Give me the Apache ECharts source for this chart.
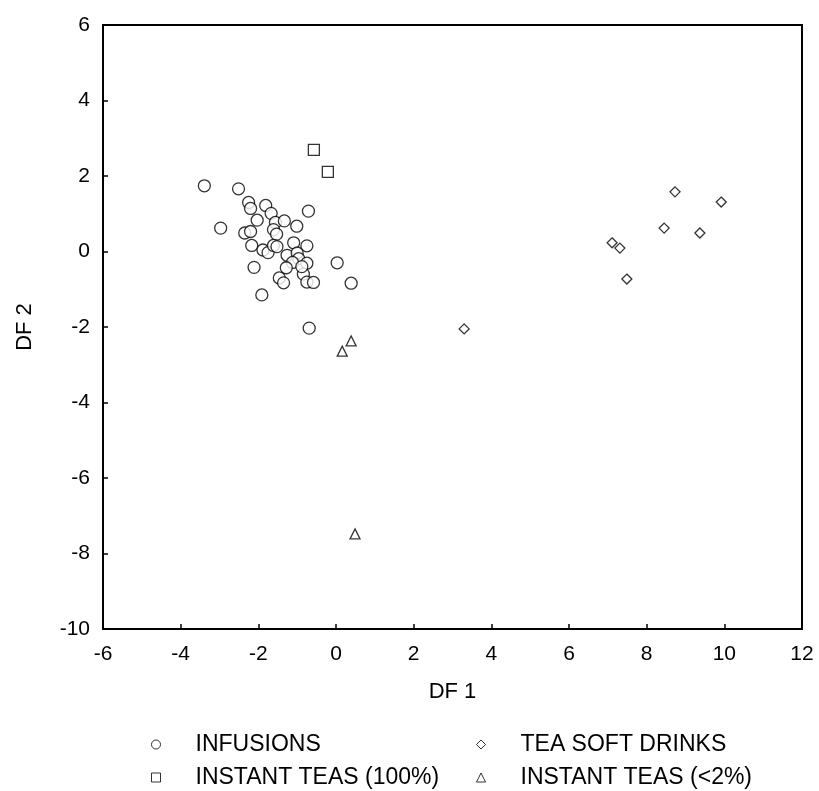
<!DOCTYPE html>
<html>
<head>
<meta charset="utf-8">
<script src="https://cdn.jsdelivr.net/npm/echarts@6/dist/echarts.min.js"></script>
<style>
  html, body { margin: 0; padding: 0; background: #fff; }
  #chart { width: 819px; height: 791px; }
</style>
</head>
<body>
<div id="chart"></div>
<script>
// DF1 / DF2 scores
const infusions = [
  [-3.39, 1.74], [-2.51, 1.66], [-2.25, 1.30], [-2.20, 1.14], [-1.81, 1.22],
  [-1.67, 1.01], [-0.71, 1.07], [-2.03, 0.83], [-1.56, 0.77], [-1.33, 0.81],
  [-1.01, 0.67], [-2.97, 0.62], [-2.35, 0.49], [-2.20, 0.53], [-1.61, 0.58],
  [-1.53, 0.46], [-2.17, 0.16], [-1.88, 0.04], [-1.75, -0.03], [-1.61, 0.16],
  [-1.52, 0.13], [-1.09, 0.23], [-0.75, 0.15], [-1.26, -0.10], [-1.00, -0.04],
  [-0.96, -0.19], [-1.12, -0.29], [-0.75, -0.31], [-2.11, -0.42], [-1.28, -0.43],
  [0.03, -0.30], [-1.46, -0.70], [-1.35, -0.83], [-0.84, -0.60], [-0.75, -0.81],
  [-0.58, -0.82], [0.39, -0.84], [-1.91, -1.15], [-0.69, -2.03], [-0.88, -0.40]
]
const instant100 = [[-0.57, 2.69], [-0.21, 2.11]]
const softDrinks = [
  [3.30, -2.05], [7.11, 0.23], [7.31, 0.09], [7.49, -0.73],
  [8.45, 0.62], [8.73, 1.58], [9.37, 0.49], [9.92, 1.31]
]
const instant2 = [[0.39, -2.37], [0.16, -2.64], [0.49, -7.48]]

const font = 'Liberation Sans, Arial, Helvetica, sans-serif'
const hollow = { color: '#fff', borderColor: '#000', borderWidth: 1.3 }

function legendAt(name, icon, left, top) {
  return {
    data: [{ name: name, icon: icon, itemStyle: { color: '#fff', borderColor: '#000', borderWidth: 1 } }],
    left: left,
    top: top,
    padding: 0,
    itemWidth: 9,
    itemHeight: 9,
    selectedMode: false,
    textStyle: { fontFamily: font, fontSize: 23, color: '#000', padding: [0, 0, 0, 30] }
  }
}

const chart = echarts.init(document.getElementById('chart'))
chart.setOption({
  backgroundColor: '#fff',
  animation: false,
  grid: { left: 103, right: 17, top: 25, bottom: 162, show: true, borderColor: '#000', borderWidth: 2 },
  xAxis: {
    type: 'value', min: -6, max: 12, interval: 2,
    name: 'DF 1', nameLocation: 'middle', nameGap: 52,
    nameTextStyle: { fontFamily: font, fontSize: 22, color: '#000' },
    axisLine: { show: true, onZero: false, lineStyle: { color: '#000', width: 2 } },
    axisTick: { show: true, inside: true, length: 5, lineStyle: { color: '#000', width: 1.5 } },
    axisLabel: { fontFamily: font, fontSize: 21, color: '#000', margin: 15 },
    splitLine: { show: false }
  },
  yAxis: {
    type: 'value', min: -10, max: 6, interval: 2,
    name: 'DF 2', nameLocation: 'middle', nameGap: 67,
    nameTextStyle: { fontFamily: font, fontSize: 22, color: '#000' },
    axisLine: { show: true, onZero: false, lineStyle: { color: '#000', width: 2 } },
    axisTick: { show: true, inside: true, length: 5, lineStyle: { color: '#000', width: 1.5 } },
    axisLabel: { fontFamily: font, fontSize: 21, color: '#000', margin: 13 },
    splitLine: { show: false }
  },
  legend: [
    legendAt('INFUSIONS', 'circle', 151, 733),
    legendAt('TEA SOFT DRINKS', 'diamond', 476, 733),
    legendAt('INSTANT TEAS (100%)', 'rect', 151, 766),
    legendAt('INSTANT TEAS (<2%)', 'triangle', 476, 766)
  ],
  series: [
    { name: 'INFUSIONS', type: 'scatter', symbol: 'circle', symbolSize: 12, itemStyle: hollow, data: infusions },
    { name: 'TEA SOFT DRINKS', type: 'scatter', symbol: 'diamond', symbolSize: 10, itemStyle: hollow, data: softDrinks },
    { name: 'INSTANT TEAS (100%)', type: 'scatter', symbol: 'rect', symbolSize: 11, itemStyle: hollow, data: instant100 },
    { name: 'INSTANT TEAS (<2%)', type: 'scatter', symbol: 'triangle', symbolSize: 10, itemStyle: hollow, data: instant2 }
  ]
})
</script>
</body>
</html>
